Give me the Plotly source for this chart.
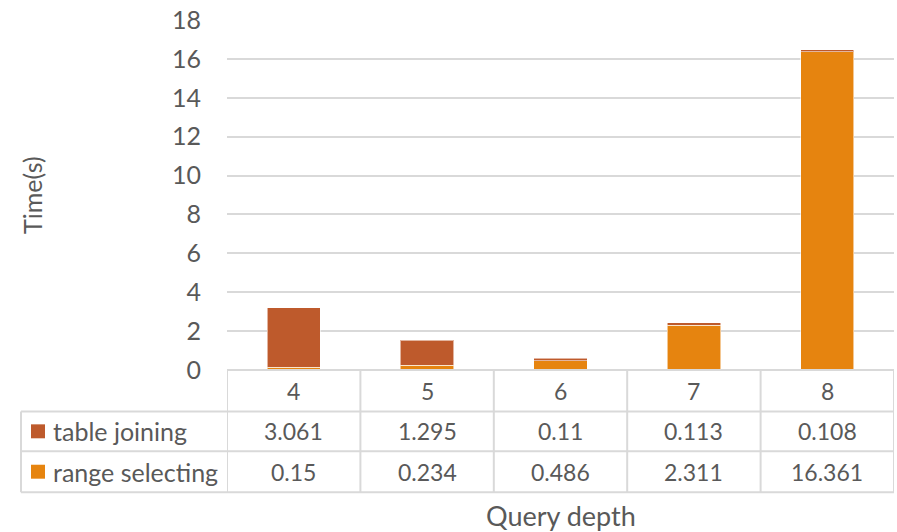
import plotly.graph_objects as go

# Query timings split by phase
depths = [4, 5, 6, 7, 8]
table_joining = [3.061, 1.295, 0.11, 0.113, 0.108]
range_selecting = [0.15, 0.234, 0.486, 2.311, 16.361]
y_ticks = [0, 2, 4, 6, 8, 10, 12, 14, 16, 18]

C_JOIN = "#BE5A2C"
C_RANGE = "#E6840F"
GRID = "#D9D9D9"
TXT = "#595959"
FONT = "Lato"

W, H = 897, 532
L, R = 227, 894      # plot area left/right in pixels
T, B = 19.5, 370.5   # plot area top/bottom in pixels


def py(p):
    """pixel row -> paper y"""
    return (B - p) / (B - T)


def px(p):
    """pixel column -> paper x"""
    return (p - L) / (R - L)


bar_edge = dict(color="rgba(255,255,255,0.55)", width=1)
fig = go.Figure()
fig.add_trace(go.Bar(x=depths, y=range_selecting, name="range selecting",
                     marker=dict(color=C_RANGE, line=bar_edge), width=0.4))
fig.add_trace(go.Bar(x=depths, y=table_joining, name="table joining",
                     marker=dict(color=C_JOIN, line=bar_edge), width=0.4))

shapes = []
ann = []
line = dict(color=GRID, width=2)

row_top, row1, row2, row_bot = 370.5, 412, 452, 493
tbl_left = 21

# horizontal table rules
shapes.append(dict(type="line", xref="paper", yref="paper", x0=0, x1=1,
                   y0=py(row_top), y1=py(row_top), line=line))
for yy in (row1, row2, row_bot):
    shapes.append(dict(type="line", xref="paper", yref="paper", x0=px(tbl_left), x1=1,
                       y0=py(yy), y1=py(yy), line=line))
# vertical rules between categories
for i in range(len(depths) + 1):
    xv = depths[0] - 0.5 + i
    shapes.append(dict(type="line", xref="x", yref="paper", x0=xv, x1=xv,
                       y0=py(row_top), y1=py(row_bot), line=line))
shapes.append(dict(type="line", xref="paper", yref="paper", x0=px(tbl_left), x1=px(tbl_left),
                   y0=py(row1), y1=py(row_bot), line=line))

fs_num = 23
fs_lbl = 25
# category header row and values
for d, j, r in zip(depths, table_joining, range_selecting):
    for txt, yc in ((str(d), (row_top + row1) / 2), (str(j), (row1 + row2) / 2),
                    (str(r), (row2 + row_bot) / 2)):
        ann.append(dict(x=d, y=py(yc), xref="x", yref="paper", text=txt, showarrow=False,
                        xanchor="center", yanchor="middle",
                        font=dict(family=FONT, size=fs_num, color=TXT)))

# series keys in the first column
for name, color, yc in (("table joining", C_JOIN, (row1 + row2) / 2),
                        ("range selecting", C_RANGE, (row2 + row_bot) / 2)):
    shapes.append(dict(type="rect", xref="paper", yref="paper", x0=px(31), x1=px(45),
                       y0=py(yc - 7), y1=py(yc + 7), fillcolor=color, line=dict(width=0)))
    ann.append(dict(x=px(51), y=py(yc), xref="paper", yref="paper", text=name,
                    showarrow=False, xanchor="left", yanchor="middle",
                    font=dict(family=FONT, size=fs_lbl, color=TXT)))

# axis titles
ann.append(dict(x=px((L + R) / 2), y=py(516), xref="paper", yref="paper", text="Query depth",
                showarrow=False, xanchor="center", yanchor="middle",
                font=dict(family=FONT, size=27, color=TXT)))
ann.append(dict(x=px(32), y=py((T + B) / 2), xref="paper", yref="paper", text="Time(s)",
                showarrow=False, xanchor="center", yanchor="middle", textangle=-90,
                font=dict(family=FONT, size=25, color=TXT)))

fig.update_layout(
    width=W, height=H,
    margin=dict(l=L, r=W - R, t=T, b=H - B, pad=0),
    barmode="stack",
    showlegend=False,
    plot_bgcolor="white", paper_bgcolor="white",
    shapes=shapes, annotations=ann,
    xaxis=dict(range=[depths[0] - 0.5, depths[-1] + 0.5], showticklabels=False,
               showgrid=False, zeroline=False, showline=False, fixedrange=True),
    yaxis=dict(range=[0, 18], tickvals=y_ticks, showgrid=True, gridcolor=GRID, gridwidth=1.5,
               zeroline=False, showline=False, ticks="", ticklabelstandoff=25,
               tickfont=dict(family=FONT, size=25, color=TXT)),
)

fig.write_html("out.html")
